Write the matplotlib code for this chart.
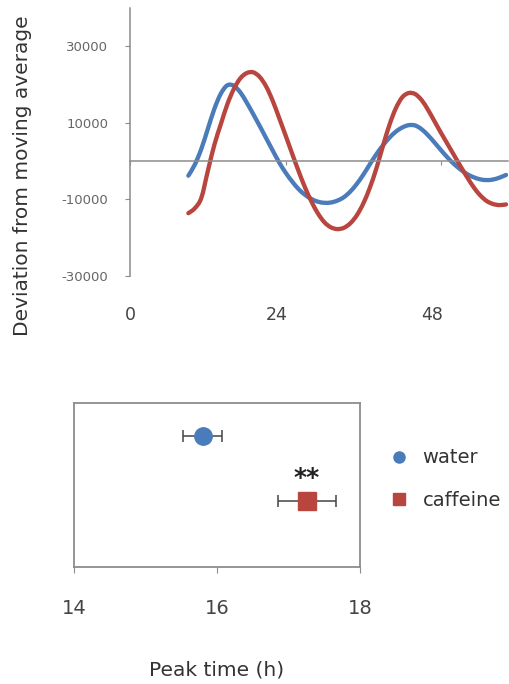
import numpy as np
import matplotlib
matplotlib.use("Agg")
import matplotlib.pyplot as plt
from matplotlib.lines import Line2D
from matplotlib.path import Path
from matplotlib.patches import PathPatch
from matplotlib.transforms import ScaledTranslation

# top panel: deviation from moving average, hourly (h 9..58)
hours = np.arange(9, 59)
water_dev = [-3800, -900, 3200, 8400, 13600, 17600, 19800, 19700, 18000, 15300,
             12300, 9200, 6000, 2800, -300, -3000, -5300, -7300, -8800, -9900,
             -10600, -10880, -10800, -10300, -9400, -7900, -5900, -3500, -800, 1800,
             4100, 6100, 7700, 8800, 9400, 9300, 8300, 6700, 4800, 2800,
             900, -800, -2200, -3400, -4200, -4750, -4950, -4800, -4300, -3600]
caffeine_dev = [-13600, -12300, -9600, -2600, 4200, 9600, 14800, 18800, 21600, 23000,
                23200, 22000, 19500, 15800, 11300, 6700, 2000, -2600, -6900, -10600,
                -13700, -16000, -17300, -17750, -17400, -16200, -14100, -11000, -6900, -1900,
                3900, 9400, 13800, 16700, 17800, 17500, 15900, 13300, 10300, 7300,
                4400, 1500, -1400, -4200, -6800, -8900, -10400, -11200, -11480, -11300]
x_ticks = [0, 24, 48]
y_ticks = [-30000, -10000, 10000, 30000]

# bottom panel: peak time
groups = ["water", "caffeine"]
peak_mean = [15.8, 17.26]
peak_err = [0.27, 0.4]
group_pos = [2.4, 1.2]
peak_ticks = [14, 16, 18]

BLUE = "#4A7BBA"
RED = "#B9453F"
GRAY = "#8c8c8c"

plt.rcParams["font.family"] = ["DejaVu Sans"]


def smooth_line(x, y):
    # smoothed line like the spreadsheet one: bezier segments through the points
    pts = np.column_stack([x, y]).astype(float)
    verts = [pts[0]]
    codes = [Path.MOVETO]
    n = len(pts)
    for i in range(n - 1):
        p0 = pts[max(i - 1, 0)]
        p1 = pts[i]
        p2 = pts[i + 1]
        p3 = pts[min(i + 2, n - 1)]
        verts += [p1 + (p2 - p0) / 6, p2 - (p3 - p1) / 6, p2]
        codes += [Path.CURVE4] * 3
    return Path(verts, codes)


fig = plt.figure(figsize=(5.09, 6.84), dpi=100)

# ---- top chart
ax = fig.add_axes([130 / 509, 1 - 276 / 684, 378 / 509, 268 / 684])
for vals, col in ((water_dev, BLUE), (caffeine_dev, RED)):
    ax.add_patch(PathPatch(smooth_line(hours, vals), fill=False, edgecolor=col,
                           lw=3.1, capstyle="round", joinstyle="round"))
ax.set_xlim(0, 58.3)
ax.set_ylim(-30000, 40000)
ax.set_xticks(x_ticks)
ax.set_yticks(y_ticks)
ax.set_yticklabels([str(v) for v in y_ticks])
ax.spines["top"].set_visible(False)
ax.spines["right"].set_visible(False)
ax.spines["bottom"].set_position(("data", 0))
for s in ("left", "bottom"):
    ax.spines[s].set_color(GRAY)
    ax.spines[s].set_linewidth(1.1)
ax.tick_params(axis="y", direction="out", length=3.5, color=GRAY,
               labelsize=9.5, labelcolor="#666666", pad=12)
ax.tick_params(axis="x", direction="out", length=3, color=GRAY,
               labelsize=12.5, labelcolor="#444444", pad=101)
for lab in ax.get_xticklabels()[1:]:
    lab.set_transform(lab.get_transform() + ScaledTranslation(-9 / 100, 0, fig.dpi_scale_trans))
fig.text(23 / 509, 1 - 176 / 684, "Deviation from moving average", rotation=90,
         ha="center", va="center", fontsize=14.5, color="#333333")

# ---- bottom chart
ax2 = fig.add_axes([74 / 509, 1 - 567 / 684, 286 / 509, 164 / 684])
ax2.errorbar(peak_mean[0], group_pos[0], xerr=peak_err[0], fmt="o", color=BLUE,
             ms=12.5, ecolor="#444444", elinewidth=1.1, capsize=4, capthick=1.1)
ax2.errorbar(peak_mean[1], group_pos[1], xerr=peak_err[1], fmt="s", color=RED,
             ms=13, ecolor="#444444", elinewidth=1.1, capsize=4, capthick=1.1)
ax2.text(peak_mean[1], group_pos[1] + 0.43, "**", ha="center", va="center",
         fontsize=18, fontweight="bold", color="#222222")
ax2.set_xlim(14, 18)
ax2.set_ylim(0, 3)
ax2.set_xticks(peak_ticks)
ax2.set_yticks([])
for s in ax2.spines.values():
    s.set_color(GRAY)
    s.set_linewidth(1.3)
ax2.tick_params(axis="x", direction="out", length=4, color=GRAY,
                labelsize=14, labelcolor="#444444", pad=19)
fig.text(217 / 509, 1 - 670 / 684, "Peak time (h)", ha="center", va="center",
         fontsize=14.5, color="#333333")

handles = [Line2D([], [], ls="", marker="o", color=BLUE, ms=8),
           Line2D([], [], ls="", marker="s", color=RED, ms=8)]
fig.legend(handles, groups, loc="center left", bbox_to_anchor=(370 / 509, 1 - 479 / 684),
           frameon=False, fontsize=14, labelspacing=1.2, handletextpad=0.6,
           handlelength=1.2, labelcolor="#333333")

fig.savefig("out.png", dpi=100)
